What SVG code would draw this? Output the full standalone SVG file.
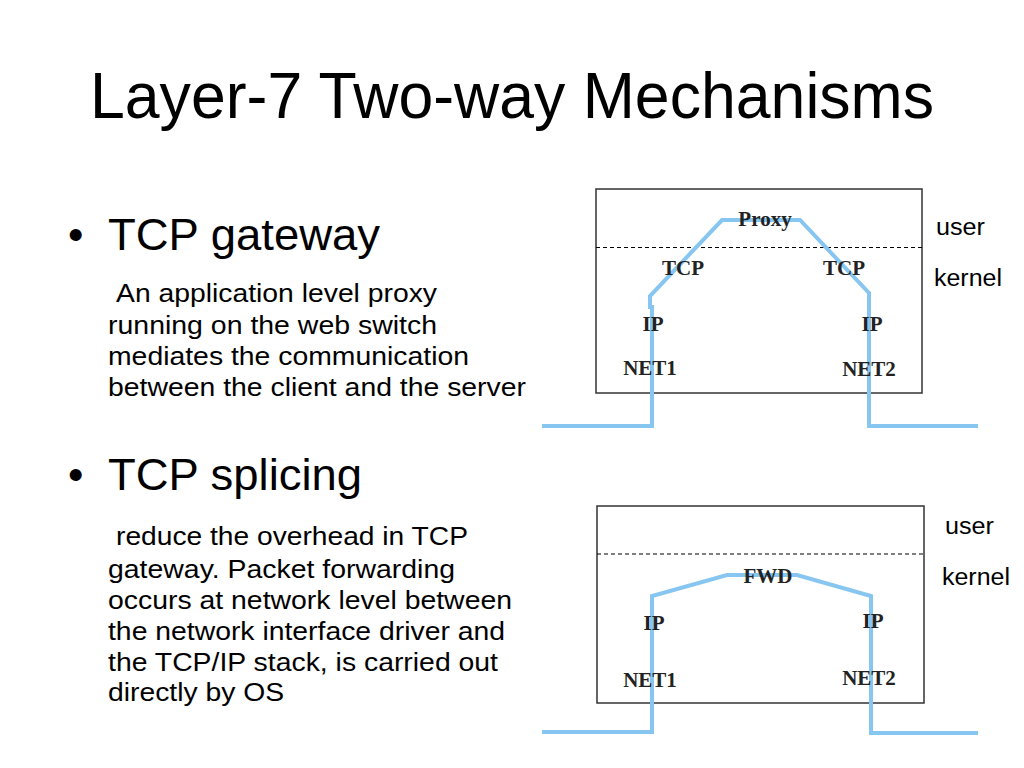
<svg xmlns="http://www.w3.org/2000/svg" width="1024" height="768" viewBox="0 0 1024 768">
<style>
.title{font-family:"Liberation Sans",Arial,sans-serif;font-size:64px;fill:#000}
.b1{font-family:"Liberation Sans",Arial,sans-serif;font-size:44px;fill:#000}
.b2{font-family:"Liberation Sans",Arial,sans-serif;font-size:26px;fill:#000}
.side{font-family:"Liberation Sans",Arial,sans-serif;font-size:23px;fill:#000}
.lbl{font-family:"Liberation Serif","Times New Roman",serif;font-size:21px;font-weight:bold;fill:#222;text-anchor:middle}
.box{fill:none;stroke:#333;stroke-width:1.5}
.dash{stroke:#000;stroke-width:1;stroke-dasharray:4 3}
.flow{fill:none;stroke:#86c6f0;stroke-width:4;stroke-linejoin:miter}
</style>
<rect width="1024" height="768" fill="#fff"/>
<text class="title" x="90" y="118" textLength="844" lengthAdjust="spacingAndGlyphs">Layer-7 Two-way Mechanisms</text>

<g id="bullet-gateway">
<text class="b1" x="68" y="250">•</text>
<text class="b1" x="108" y="250" textLength="272" lengthAdjust="spacingAndGlyphs">TCP gateway</text>
<text class="b2" x="116" y="302" textLength="321" lengthAdjust="spacingAndGlyphs">An application level proxy</text>
<text class="b2" x="108" y="334" textLength="329" lengthAdjust="spacingAndGlyphs">running on the web switch</text>
<text class="b2" x="108" y="365" textLength="361" lengthAdjust="spacingAndGlyphs">mediates the communication</text>
<text class="b2" x="108" y="396" textLength="418" lengthAdjust="spacingAndGlyphs">between the client and the server</text>
</g>
<g id="bullet-splicing">
<text class="b1" x="68" y="490">•</text>
<text class="b1" x="108" y="490" textLength="254" lengthAdjust="spacingAndGlyphs">TCP splicing</text>
<text class="b2" x="116" y="545" textLength="352" lengthAdjust="spacingAndGlyphs">reduce the overhead in TCP</text>
<text class="b2" x="108" y="578" textLength="347" lengthAdjust="spacingAndGlyphs">gateway. Packet forwarding</text>
<text class="b2" x="108" y="609" textLength="404" lengthAdjust="spacingAndGlyphs">occurs at network level between</text>
<text class="b2" x="108" y="640" textLength="397" lengthAdjust="spacingAndGlyphs">the network interface driver and</text>
<text class="b2" x="108" y="671" textLength="390" lengthAdjust="spacingAndGlyphs">the TCP/IP stack, is carried out</text>
<text class="b2" x="108" y="701" textLength="176" lengthAdjust="spacingAndGlyphs">directly by OS</text>
</g>

<g id="gateway-diagram">
<rect class="box" x="596" y="189" width="326" height="204"/>
<line class="dash" x1="596" y1="247.5" x2="922" y2="247.5"/>
<text class="side" x="936" y="235" textLength="49" lengthAdjust="spacingAndGlyphs">user</text>
<text class="side" x="934" y="286" textLength="68" lengthAdjust="spacingAndGlyphs">kernel</text>
</g>
<g id="splicing-diagram">
<rect class="box" x="597" y="506" width="327" height="197"/>
<line class="dash" x1="597" y1="554" x2="924" y2="554"/>
<text class="side" x="945" y="534" textLength="49" lengthAdjust="spacingAndGlyphs">user</text>
<text class="side" x="942" y="585" textLength="68" lengthAdjust="spacingAndGlyphs">kernel</text>
</g>

<g id="connectors">
<polyline class="flow" points="542,426 652,426 652,307 650,307 650,296 722,220 800,220 869,293 869,426 978,426"/>
<polyline class="flow" points="542,732 652,732 652,596 727,575 797,575 871,596 871,733 978,733"/>
</g>

<g id="labels-gateway">
<text class="lbl" x="765" y="226">Proxy</text>
<text class="lbl" x="683" y="275">TCP</text>
<text class="lbl" x="844" y="275">TCP</text>
<text class="lbl" x="653" y="331">IP</text>
<text class="lbl" x="872" y="331">IP</text>
<text class="lbl" x="650" y="375">NET1</text>
<text class="lbl" x="869" y="376">NET2</text>
</g>
<g id="labels-splicing">
<text class="lbl" x="768" y="583">FWD</text>
<text class="lbl" x="654" y="630">IP</text>
<text class="lbl" x="873" y="628">IP</text>
<text class="lbl" x="650" y="687">NET1</text>
<text class="lbl" x="869" y="685">NET2</text>
</g>
</svg>
